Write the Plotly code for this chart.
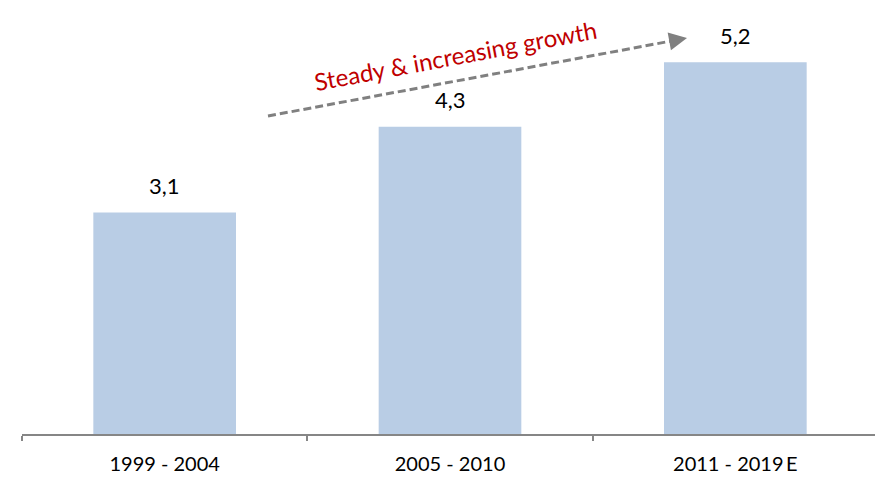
import plotly.graph_objects as go

categories = ["1999 - 2004", "2005 - 2010", "2011 - 2019\u2009E"]
values = [3.1, 4.3, 5.2]
labels = [f"{v:.1f}".replace(".", ",") for v in values]
trend_text = "Steady & increasing growth"

# plot area on screen: x 22..878, y 8..434 (page has 8px body margin)
def px(sx):
    return (sx - 22) / 856

def py(sy):
    return (434 - sy) / 426

fig = go.Figure()
fig.add_trace(go.Bar(
    x=categories, y=values,
    marker=dict(color="#B9CDE5", line=dict(width=0)),
    hoverinfo="skip",
))

for c, v, t in zip(categories, values, labels):
    fig.add_annotation(x=c, y=v, xref="x", yref="y", text=t, showarrow=False,
                       yanchor="middle", yshift=27,
                       font=dict(family="Lato", size=22, color="#000000"))

# trend arrow (dashed line + head)
fig.add_shape(type="line", xref="paper", yref="paper",
              x0=px(268), y0=py(116), x1=px(674), y1=py(40.5),
              line=dict(color="#808080", width=3, dash="8px,4px"))
fig.add_annotation(xref="paper", yref="paper",
                   x=px(687), y=py(38),
                   ax=-14, ay=2.6, axref="pixel", ayref="pixel",
                   text="", showarrow=True, arrowhead=2, arrowsize=1.2,
                   arrowwidth=3, arrowcolor="#808080")
fig.add_annotation(xref="paper", yref="paper",
                   x=px(455), y=py(55), xanchor="center", yanchor="middle",
                   text=trend_text, showarrow=False, textangle=-10.6,
                   font=dict(family="Lato", size=24, color="#C00000"))

fig.update_layout(
    width=875, height=469,
    margin=dict(l=14, r=5, t=0, b=43),
    paper_bgcolor="white", plot_bgcolor="white",
    bargap=0.5, showlegend=False,
    xaxis=dict(type="category", tickson="boundaries", ticks="outside",
               ticklen=5, tickcolor="#868686", tickwidth=1.5,
               showline=True, linecolor="#868686", linewidth=1.5,
               ticklabelstandoff=11,
               showgrid=False, tickfont=dict(family="Lato", size=20, color="#000000")),
    yaxis=dict(range=[0, 5.96], visible=False, showgrid=False),
)

fig.write_html("out.html")
